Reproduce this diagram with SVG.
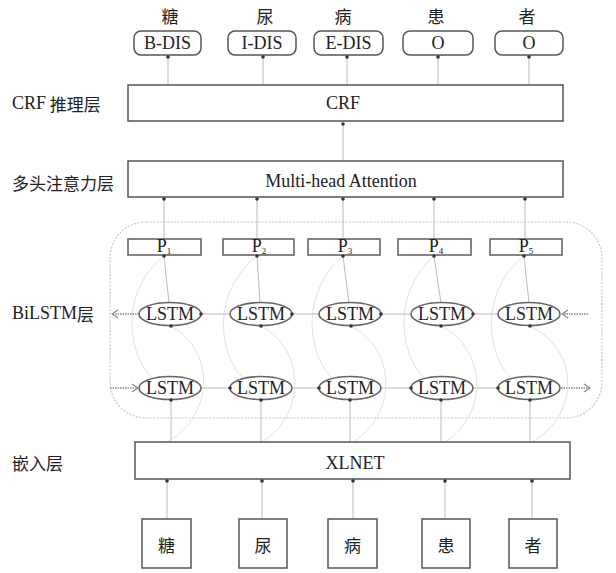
<svg xmlns="http://www.w3.org/2000/svg" width="616" height="573" viewBox="0 0 616 573">
<defs>
<style>
.t{font-family:"Liberation Serif","Times New Roman",serif;font-size:18px;fill:#222;text-anchor:middle;dominant-baseline:central}
.c{font-family:"Noto Sans CJK SC","Noto Sans CJK TC",sans-serif;font-size:17px;fill:#222;text-anchor:middle;dominant-baseline:central}
.lab{font-family:"Noto Sans CJK SC",sans-serif;font-size:17px;fill:#222;dominant-baseline:central}
.lat{font-family:"Liberation Serif","Times New Roman",serif;font-size:18px}
.box{fill:#fff;stroke:#555;stroke-width:1.5}
.pbox{fill:#fff;stroke:#666;stroke-width:1.6}
.ell{fill:#fff;stroke:#666;stroke-width:1.6}
.ln{fill:none;stroke:#bbb;stroke-width:1}
.fa{fill:none;stroke:#e2e2e2;stroke-width:1}
.dot{fill:#333}
.dash{fill:none;stroke:#c8c8c8;stroke-width:1.2;stroke-dasharray:2 1.5}
.arr{fill:none;stroke:#888;stroke-width:1.5;stroke-dasharray:1.5 1}
</style>
<marker id="ah" markerWidth="8" markerHeight="10" refX="7" refY="5" orient="auto" markerUnits="userSpaceOnUse">
<path d="M1,1 L7,5 L1,9" fill="none" stroke="#888" stroke-width="1.2"/>
</marker>
</defs>
<rect width="616" height="573" fill="#fff"/>

<g id="layer-labels">
<text class="lab" x="12" y="103"><tspan class="lat">CRF</tspan> 推理层</text>
<text class="lab" x="12" y="182">多头注意力层</text>
<text class="lab" x="12" y="313"><tspan class="lat">BiLSTM</tspan>层</text>
<text class="lab" x="12" y="462">嵌入层</text>
</g>

<g id="bilstm-frame">
<rect class="dash" x="110" y="222" width="492" height="196" rx="36" ry="36"/>
</g>

<g id="connectors">
<line class="ln" x1="168" y1="57" x2="168" y2="85"/>
<line class="ln" x1="263" y1="57" x2="263" y2="85"/>
<line class="ln" x1="347" y1="57" x2="347" y2="85"/>
<line class="ln" x1="438" y1="57" x2="438" y2="85"/>
<line class="ln" x1="529" y1="57" x2="529" y2="85"/>
<line class="ln" x1="343" y1="124" x2="343" y2="161"/>
<line class="ln" x1="164" y1="199" x2="164" y2="239"/>
<line class="ln" x1="257" y1="199" x2="257" y2="239"/>
<line class="ln" x1="343" y1="199" x2="343" y2="239"/>
<line class="ln" x1="434" y1="199" x2="434" y2="239"/>
<line class="ln" x1="525" y1="199" x2="525" y2="239"/>
<line class="ln" x1="164" y1="256" x2="169" y2="303"/>
<line class="ln" x1="257" y1="256" x2="260" y2="303"/>
<line class="ln" x1="343" y1="256" x2="349" y2="303"/>
<line class="ln" x1="434" y1="256" x2="441" y2="303"/>
<line class="ln" x1="524" y1="256" x2="529" y2="303"/>
<path class="fa" d="M152,378 C125,350 122,290 163,257"/>
<path class="fa" d="M243,378 C216,350 214,290 256,257"/>
<path class="fa" d="M332,378 C305,350 303,290 342,257"/>
<path class="fa" d="M424,378 C397,350 395,290 433,257"/>
<path class="fa" d="M511,378 C484,350 482,290 523,257"/>
<line class="ln" x1="230" y1="314" x2="201" y2="314"/>
<line class="ln" x1="319" y1="314" x2="292" y2="314"/>
<line class="ln" x1="411" y1="314" x2="381" y2="314"/>
<line class="ln" x1="498" y1="314" x2="473" y2="314"/>
<line class="ln" x1="201" y1="388" x2="230" y2="388"/>
<line class="ln" x1="292" y1="388" x2="319" y2="388"/>
<line class="ln" x1="381" y1="388" x2="411" y2="388"/>
<line class="ln" x1="473" y1="388" x2="498" y2="388"/>
<line class="arr" x1="139" y1="314" x2="112" y2="314" marker-end="url(#ah)"/>
<line class="arr" x1="588" y1="314" x2="562" y2="314" marker-end="url(#ah)"/>
<line class="arr" x1="110" y1="388" x2="138" y2="388" marker-end="url(#ah)"/>
<line class="arr" x1="561" y1="388" x2="590" y2="388" marker-end="url(#ah)"/>
<line class="ln" x1="171" y1="400" x2="171" y2="442"/>
<line class="ln" x1="261" y1="400" x2="261" y2="442"/>
<line class="ln" x1="350" y1="400" x2="350" y2="442"/>
<line class="ln" x1="441" y1="400" x2="441" y2="442"/>
<line class="ln" x1="530" y1="400" x2="530" y2="442"/>
<path class="fa" d="M167,442 C215,415 215,350 171,326"/>
<path class="fa" d="M262,442 C306,415 306,350 261,326"/>
<path class="fa" d="M353,442 C397,415 397,350 351,326"/>
<path class="fa" d="M445,442 C488,415 488,350 441,326"/>
<path class="fa" d="M532,442 C580,415 580,350 530,326"/>
<line class="ln" x1="167" y1="481" x2="167" y2="519"/>
<line class="ln" x1="262" y1="481" x2="262" y2="519"/>
<line class="ln" x1="353" y1="481" x2="353" y2="519"/>
<line class="ln" x1="445" y1="481" x2="445" y2="519"/>
<line class="ln" x1="532" y1="481" x2="532" y2="519"/>
</g>

<g id="out-chars">
<text class="c" x="170" y="15">糖</text>
<text class="c" x="265" y="15">尿</text>
<text class="c" x="343" y="15">病</text>
<text class="c" x="436" y="15">患</text>
<text class="c" x="527" y="15">者</text>
</g>

<g id="tag1"><rect class="box" x="134" y="31" width="67" height="24" rx="7"/><text class="t" x="167.5" y="43">B-DIS</text><circle class="dot" cx="168" cy="57" r="1.8"/></g>
<g id="tag2"><rect class="box" x="228" y="31" width="68" height="24" rx="7"/><text class="t" x="262" y="43">I-DIS</text><circle class="dot" cx="263" cy="57" r="1.8"/></g>
<g id="tag3"><rect class="box" x="314" y="31" width="69" height="24" rx="7"/><text class="t" x="348.5" y="43">E-DIS</text><circle class="dot" cx="347" cy="57" r="1.8"/></g>
<g id="tag4"><rect class="box" x="403" y="31" width="70" height="24" rx="7"/><text class="t" x="438" y="43">O</text><circle class="dot" cx="438" cy="57" r="1.8"/></g>
<g id="tag5"><rect class="box" x="495" y="31" width="68" height="24" rx="7"/><text class="t" x="529" y="43">O</text><circle class="dot" cx="529" cy="57" r="1.8"/></g>

<g id="crf"><rect class="box" x="128" y="85" width="435" height="36"/><text class="t" x="343" y="103">CRF</text><circle class="dot" cx="343" cy="124" r="1.8"/></g>

<g id="attention"><rect class="box" x="128" y="161" width="435" height="36"/><text class="t" x="341" y="181">Multi-head Attention</text>
<circle class="dot" cx="164" cy="199" r="1.8"/><circle class="dot" cx="257" cy="199" r="1.8"/><circle class="dot" cx="343" cy="199" r="1.8"/><circle class="dot" cx="434" cy="199" r="1.8"/><circle class="dot" cx="525" cy="199" r="1.8"/></g>

<g id="p1"><rect class="pbox" x="128" y="239" width="73" height="16"/><text class="t" x="164" y="246">P<tspan font-size="9" dy="5">1</tspan></text><circle class="dot" cx="164" cy="256" r="1.8"/></g>
<g id="p2"><rect class="pbox" x="223" y="239" width="71" height="16"/><text class="t" x="259" y="246">P<tspan font-size="9" dy="5">2</tspan></text><circle class="dot" cx="257" cy="256" r="1.8"/></g>
<g id="p3"><rect class="pbox" x="308" y="239" width="72" height="16"/><text class="t" x="345" y="246">P<tspan font-size="9" dy="5">3</tspan></text><circle class="dot" cx="343" cy="256" r="1.8"/></g>
<g id="p4"><rect class="pbox" x="398" y="239" width="73" height="16"/><text class="t" x="436" y="246">P<tspan font-size="9" dy="5">4</tspan></text><circle class="dot" cx="434" cy="256" r="1.8"/></g>
<g id="p5"><rect class="pbox" x="490" y="239" width="72" height="16"/><text class="t" x="526" y="246">P<tspan font-size="9" dy="5">5</tspan></text><circle class="dot" cx="524" cy="256" r="1.8"/></g>

<g id="lstm-b1"><ellipse class="ell" cx="170" cy="314" rx="31" ry="11.5"/><text class="t" x="170" y="314">LSTM</text><circle class="dot" cx="201" cy="314" r="1.8"/><circle class="dot" cx="171" cy="326" r="1.8"/></g>
<g id="lstm-b2"><ellipse class="ell" cx="261" cy="314" rx="31" ry="11.5"/><text class="t" x="261" y="314">LSTM</text><circle class="dot" cx="292" cy="314" r="1.8"/><circle class="dot" cx="261" cy="326" r="1.8"/></g>
<g id="lstm-b3"><ellipse class="ell" cx="350" cy="314" rx="31" ry="11.5"/><text class="t" x="350" y="314">LSTM</text><circle class="dot" cx="381" cy="314" r="1.8"/><circle class="dot" cx="351" cy="326" r="1.8"/></g>
<g id="lstm-b4"><ellipse class="ell" cx="442" cy="314" rx="31" ry="11.5"/><text class="t" x="442" y="314">LSTM</text><circle class="dot" cx="473" cy="314" r="1.8"/><circle class="dot" cx="441" cy="326" r="1.8"/></g>
<g id="lstm-b5"><ellipse class="ell" cx="529" cy="314" rx="31" ry="11.5"/><text class="t" x="529" y="314">LSTM</text><circle class="dot" cx="530" cy="326" r="1.8"/></g>

<g id="lstm-f1"><ellipse class="ell" cx="170" cy="388" rx="31" ry="11.5"/><text class="t" x="170" y="388">LSTM</text><circle class="dot" cx="171" cy="400" r="1.8"/></g>
<g id="lstm-f2"><ellipse class="ell" cx="261" cy="388" rx="31" ry="11.5"/><text class="t" x="261" y="388">LSTM</text><circle class="dot" cx="230" cy="388" r="1.8"/><circle class="dot" cx="261" cy="400" r="1.8"/></g>
<g id="lstm-f3"><ellipse class="ell" cx="350" cy="388" rx="31" ry="11.5"/><text class="t" x="350" y="388">LSTM</text><circle class="dot" cx="319" cy="388" r="1.8"/><circle class="dot" cx="350" cy="400" r="1.8"/></g>
<g id="lstm-f4"><ellipse class="ell" cx="442" cy="388" rx="31" ry="11.5"/><text class="t" x="442" y="388">LSTM</text><circle class="dot" cx="411" cy="388" r="1.8"/><circle class="dot" cx="441" cy="400" r="1.8"/></g>
<g id="lstm-f5"><ellipse class="ell" cx="529" cy="388" rx="31" ry="11.5"/><text class="t" x="529" y="388">LSTM</text><circle class="dot" cx="498" cy="388" r="1.8"/><circle class="dot" cx="530" cy="400" r="1.8"/></g>

<g id="xlnet"><rect class="box" x="135" y="442" width="435" height="37"/><text class="t" x="355" y="463">XLNET</text>
<circle class="dot" cx="167" cy="481" r="1.8"/><circle class="dot" cx="262" cy="481" r="1.8"/><circle class="dot" cx="353" cy="481" r="1.8"/><circle class="dot" cx="445" cy="481" r="1.8"/><circle class="dot" cx="532" cy="481" r="1.8"/></g>

<g id="in1"><rect class="box" x="142" y="519" width="49" height="49"/><text class="c" x="166.5" y="544">糖</text></g>
<g id="in2"><rect class="box" x="239" y="519" width="48" height="49"/><text class="c" x="263" y="544">尿</text></g>
<g id="in3"><rect class="box" x="328" y="519" width="49" height="49"/><text class="c" x="352.5" y="544">病</text></g>
<g id="in4"><rect class="box" x="422" y="519" width="48" height="49"/><text class="c" x="446" y="544">患</text></g>
<g id="in5"><rect class="box" x="509" y="519" width="48" height="49"/><text class="c" x="533" y="544">者</text></g>
</svg>
